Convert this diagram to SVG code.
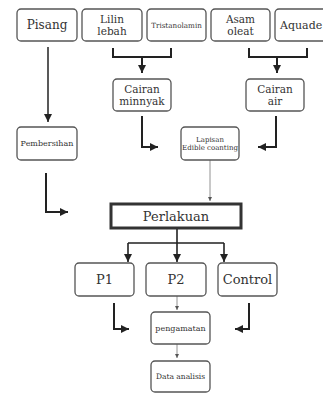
<svg xmlns="http://www.w3.org/2000/svg" width="323" height="393" viewBox="0 0 323 393">
<style>
.box{fill:#fff;stroke:#555;stroke-width:1.3}
.thick{fill:#fff;stroke:#333;stroke-width:3}
text{font-family:"DejaVu Serif","Liberation Serif",serif;fill:#333;text-anchor:middle}
.l{font-size:12px}
.d{font-size:10.5px}
.m{font-size:13px}
.s{font-size:8px}
.xs{font-size:7px}
.c{fill:none;stroke:#222;stroke-width:2}
.t{fill:none;stroke:#777;stroke-width:0.8}
</style>
<defs>
<marker id="ah" markerUnits="userSpaceOnUse" markerWidth="9" markerHeight="9" refX="8" refY="4.5" orient="auto"><path d="M0,0.5 L8,4.5 L0,8.5 Z" fill="#222"/></marker>
<marker id="ahs" markerUnits="userSpaceOnUse" markerWidth="5" markerHeight="5" refX="4" refY="2.5" orient="auto"><path d="M0,0.5 L4,2.5 L0,4.5 Z" fill="#555"/></marker>
</defs>
<rect width="323" height="393" fill="#fff"/>
<g id="connectors">
<path class="c" style="stroke-width:1.5" d="M48,47 V122" marker-end="url(#ah)"/>
<path class="c" d="M113,48 V57 H171 V48"/>
<path class="c" d="M142,57 V73" marker-end="url(#ah)"/>
<path class="c" d="M249,48 V57 H307 V48"/>
<path class="c" d="M277,57 V73" marker-end="url(#ah)"/>
<path class="c" d="M142,116 V147 H158" marker-end="url(#ah)"/>
<path class="c" d="M276,116 V147 H258" marker-end="url(#ah)"/>
<path class="t" d="M210,160 V201" marker-end="url(#ahs)"/>
<path class="c" d="M46,173 V212 H68" marker-end="url(#ah)"/>
<path class="c" style="stroke-width:1.6" d="M177,229 V243 M128,243 H224"/>
<path class="c" style="stroke-width:1.6" d="M128,243 V262" marker-end="url(#ah)"/>
<path class="c" style="stroke-width:1.6" d="M177,243 V262" marker-end="url(#ah)"/>
<path class="c" style="stroke-width:1.6" d="M224,243 V262" marker-end="url(#ah)"/>
<path class="c" d="M114,303 V329 H129" marker-end="url(#ah)"/>
<path class="c" d="M249,303 V329 H235" marker-end="url(#ah)"/>
<path class="t" d="M177,296 V310" marker-end="url(#ahs)"/>
<path class="t" d="M177,344 V358" marker-end="url(#ahs)"/>
</g>
<g id="pisang"><rect class="box" x="17" y="9" width="60" height="32" rx="4"/><text class="l" x="47" y="29">Pisang</text></g>
<g id="lilin"><rect class="box" x="82" y="9" width="60" height="32" rx="4"/><text class="d" x="112" y="22.5">Lilin</text><text class="d" x="112" y="34.5">lebah</text></g>
<g id="tristanolamin"><rect class="box" x="147" y="9" width="59" height="32" rx="4"/><text class="xs" x="176.5" y="27.5" style="font-size:7.2px">Tristanolamin</text></g>
<g id="asam"><rect class="box" x="211" y="9" width="59" height="32" rx="4"/><text class="d" x="240.5" y="22.5">Asam</text><text class="d" x="240.5" y="34.5">oleat</text></g>
<g id="aquade"><rect class="box" x="275" y="9" width="60" height="32" rx="4"/><text x="280" y="29" style="font-size:11px;text-anchor:start">Aquade</text></g>
<g id="cairan-minnyak"><rect class="box" x="113" y="79" width="58" height="32" rx="4"/><text class="d" x="142" y="92.5">Cairan</text><text class="d" x="142" y="104.5">minnyak</text></g>
<g id="cairan-air"><rect class="box" x="246" y="79" width="58" height="32" rx="4"/><text class="d" x="275" y="92.5">Cairan</text><text class="d" x="275" y="104.5">air</text></g>
<g id="pembersihan"><rect class="box" x="17" y="127" width="60" height="33" rx="4"/><text class="s" x="47" y="146">Pembersihan</text></g>
<g id="lapisan"><rect class="box" x="181" y="127" width="58" height="33" rx="4"/><text class="xs" x="210" y="141.5">Lapisan</text><text class="xs" x="210" y="149.5">Edible coanting</text></g>
<g id="perlakuan"><rect class="thick" x="111" y="204" width="130" height="24"/><text x="176" y="221" style="font-size:13px">Perlakuan</text></g>
<g id="p1"><rect class="box" x="75" y="263" width="59" height="33" rx="4"/><text class="m" x="104.5" y="284">P1</text></g>
<g id="p2"><rect class="box" x="146" y="263" width="60" height="33" rx="4"/><text class="m" x="176" y="284">P2</text></g>
<g id="control"><rect class="box" x="218" y="263" width="59" height="33" rx="4"/><text class="m" x="247.5" y="284">Control</text></g>
<g id="pengamatan"><rect class="box" x="151" y="312" width="59" height="32" rx="4"/><text class="s" x="180.5" y="330.5">pengamatan</text></g>
<g id="data-analisis"><rect class="box" x="151" y="361" width="59" height="31" rx="4"/><text class="xs" x="180.5" y="379" style="font-size:7.5px">Data analisis</text></g>
</svg>
